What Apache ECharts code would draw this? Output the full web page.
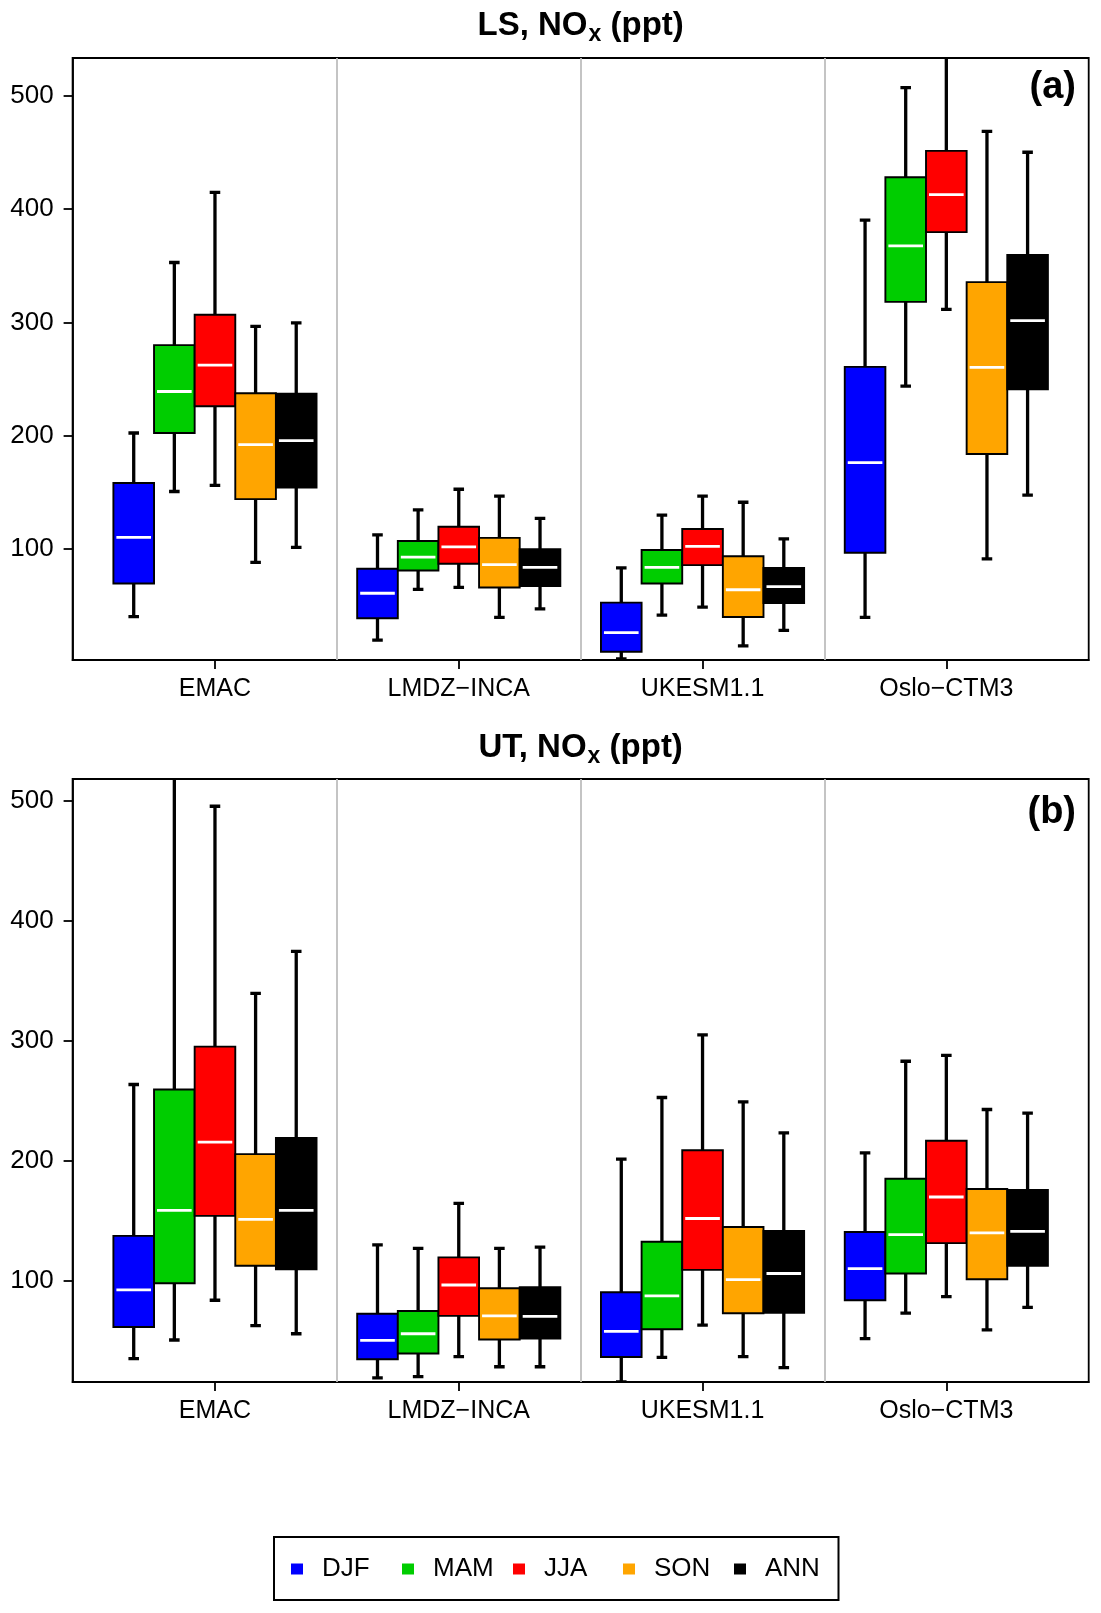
<!DOCTYPE html>
<html>
<head>
<meta charset="utf-8">
<script src="https://cdn.jsdelivr.net/npm/echarts@6/dist/echarts.min.js"></script>
<style>
html,body{margin:0;padding:0;background:#fff;}
#chart{width:1101px;height:1613px;}
</style>
</head>
<body>
<div id="chart"></div>
<script>
// ---- data ----
const MODELS = ['EMAC', 'LMDZ\u2212INCA', 'UKESM1.1', 'Oslo\u2212CTM3'];
const SEASONS = ['DJF', 'MAM', 'JJA', 'SON', 'ANN'];
const Y_TICKS = [100, 200, 300, 400, 500];
// each row: [whisker low, Q1, median, Q3, whisker high], one row per model
// LS panel (a)
const LS_DJF = [[40, 69.2, 109.9, 158, 202.2], [19.1, 38.5, 60.6, 82.2, 112.2], [2.6, 8.9, 25.8, 52.3, 83], [39.3, 96.4, 176.1, 260.6, 390.3]];
const LS_MAM = [[150.5, 202.2, 238.9, 279.9, 352.9], [64.1, 80.7, 92.5, 106.7, 134.3], [41.2, 69.2, 83.4, 98.8, 129.6], [243.6, 318.1, 367.5, 428.2, 507.5]];
const LS_JJA = [[156, 225.8, 262.1, 306.7, 414.8], [65.7, 86.6, 101.6, 119.3, 152.5], [48.3, 85.4, 102, 117.4, 146.5], [311.4, 379.7, 412.8, 451.5, 560]];
const LS_SON = [[87.8, 143.8, 191.9, 237.3, 296.4], [39.3, 65.7, 85.8, 109.5, 146.5], [14, 39.6, 63.7, 93.3, 141], [90.9, 183.6, 260.2, 335.5, 468.8]];
const LS_ANN = [[101.2, 154, 195.5, 236.9, 299.6], [46.7, 66.9, 83.4, 99.6, 126.8], [27.8, 51.9, 66.5, 83, 108.7], [147.3, 240.8, 301.6, 359.6, 450.3]];
// UT panel (b)
const UT_DJF = [[35.3, 61.7, 92.6, 137.6, 263.7], [19.3, 34.9, 50.5, 72.8, 130.1], [16, 36.7, 58, 90.7, 201.6], [52, 84, 110.4, 140.9, 206.8]];
const UT_MAM = [[50.9, 98.1, 158.8, 259.6, 540], [20.4, 39.7, 56.1, 75.1, 127.2], [36.4, 59.8, 87.7, 132.7, 252.9], [73.2, 106.3, 138.7, 185.2, 283.1]];
const UT_JJA = [[84, 154.3, 215.7, 295.3, 495.5], [37.1, 71, 96.7, 119.7, 164.7], [63.2, 109.3, 152.1, 209, 305], [87, 131.6, 170, 216.8, 287.9]];
const UT_SON = [[62.8, 112.7, 151.3, 205.7, 339.6], [28.6, 51.3, 71, 94, 127.2], [37.1, 73.2, 101.1, 145, 249.2], [59.4, 101.5, 140.2, 176.7, 242.9]];
const UT_ANN = [[56.1, 109.7, 158.8, 219.1, 374.6], [28.6, 52, 70.6, 94.8, 128.3], [27.8, 73.6, 106.3, 141.7, 223.5], [78, 112.7, 141.3, 175.9, 239.9]];

// ---- styles / layout ----
const COLORS = ['#0000FF', '#00CD00', '#FF0000', '#FFA500', '#000000'];
const FONT = 'Liberation Sans, Arial, Helvetica, sans-serif';
const BOX_STEP = 1 / 6;
const PANELS = [
  { title: 'LS', tag: '(a)', sets: [LS_DJF, LS_MAM, LS_JJA, LS_SON, LS_ANN], ymin: 1.6, ymax: 533.6, top: 58, height: 602, titleY: 26, tagY: 88 },
  { title: 'UT', tag: '(b)', sets: [UT_DJF, UT_MAM, UT_JJA, UT_SON, UT_ANN], ymin: 15.9, ymax: 518.2, top: 779, height: 603, titleY: 748, tagY: 813 }
];
const GRID_LEFT = 72.6, GRID_W = 1016.1;
const LEG_LEFT = [291, 402, 513, 623, 734];

function makeRender(s) {
  return function (params, api) {
    const x = api.value(0) + (s - 2) * BOX_STEP;
    const pLo = api.coord([x, api.value(1)]);
    const pQ1 = api.coord([x, api.value(2)]);
    const pMd = api.coord([x, api.value(3)]);
    const pQ3 = api.coord([x, api.value(4)]);
    const pHi = api.coord([x, api.value(5)]);
    const w = api.size([BOX_STEP, 0])[0];
    const hw = w / 2, cap = w * 0.13;
    const xc = pMd[0];
    const blk = { stroke: '#000', lineWidth: 3.3 };
    const cs = params.coordSys;
    return {
      type: 'group',
      clipPath: { type: 'rect', shape: { x: cs.x, y: cs.y, width: cs.width, height: cs.height } },
      children: [
        { type: 'line', shape: { x1: xc, y1: pQ3[1], x2: xc, y2: pHi[1] }, style: blk },
        { type: 'line', shape: { x1: xc, y1: pQ1[1], x2: xc, y2: pLo[1] }, style: blk },
        { type: 'line', shape: { x1: xc - cap, y1: pHi[1], x2: xc + cap, y2: pHi[1] }, style: blk },
        { type: 'line', shape: { x1: xc - cap, y1: pLo[1], x2: xc + cap, y2: pLo[1] }, style: blk },
        { type: 'rect', shape: { x: xc - hw, y: pQ3[1], width: w, height: pQ1[1] - pQ3[1] },
          style: { fill: COLORS[s], stroke: '#000', lineWidth: 1.9 } },
        { type: 'line', shape: { x1: xc - hw + 3, y1: pMd[1], x2: xc + hw - 3, y2: pMd[1] },
          style: { stroke: '#fff', lineWidth: 2.8 } }
      ]
    };
  };
}

const grids = [], xAxes = [], yAxes = [], series = [], graphics = [];
PANELS.forEach((p, pi) => {
  grids.push({ left: GRID_LEFT, top: p.top, width: GRID_W, height: p.height, show: true,
    borderColor: '#000', borderWidth: 1.8, backgroundColor: 'transparent', outerBoundsMode: 'none' });
  xAxes.push({ type: 'value', gridIndex: pi, min: 0.416, max: 4.584,
    axisLine: { show: true, lineStyle: { color: '#000', width: 1.8 } },
    axisTick: { show: true, length: 9, customValues: [1, 2, 3, 4], lineStyle: { color: '#000', width: 1.8 } },
    axisLabel: { customValues: [1, 2, 3, 4], formatter: v => MODELS[Math.round(v) - 1], fontSize: 25, fontFamily: FONT, color: '#000', margin: 17 },
    splitLine: { show: false } });
  yAxes.push({ type: 'value', gridIndex: pi, min: p.ymin, max: p.ymax,
    axisLine: { show: true, lineStyle: { color: '#000', width: 1.8 } },
    axisTick: { show: true, length: 9, customValues: Y_TICKS, lineStyle: { color: '#000', width: 1.8 } },
    axisLabel: { customValues: Y_TICKS, fontSize: 26, fontFamily: FONT, color: '#000', margin: 19 },
    splitLine: { show: false } });
  p.sets.forEach((arr, s) => {
    const ser = {
      type: 'custom', name: SEASONS[s], xAxisIndex: pi, yAxisIndex: pi,
      itemStyle: { color: COLORS[s] },
      renderItem: makeRender(s),
      encode: { x: 0, y: [1, 2, 3, 4, 5] },
      data: arr.map((v, i) => [i + 1].concat(v)),
      silent: true, animation: false
    };
    if (s === 0) {
      ser.markLine = { silent: true, symbol: 'none', animation: false, label: { show: false },
        lineStyle: { color: '#BEBEBE', width: 1.8, type: 'solid' },
        data: [{ xAxis: 1.5 }, { xAxis: 2.5 }, { xAxis: 3.5 }] };
    }
    series.push(ser);
  });
  graphics.push({ type: 'text', x: GRID_LEFT + GRID_W / 2, y: p.titleY, z: 10,
    style: { text: '{m|' + p.title + ', NO}{s|x}{m| (ppt)}', align: 'center', verticalAlign: 'middle',
      rich: {
        m: { fontSize: 33, fontWeight: 'bold', fontFamily: FONT, fill: '#000', lineHeight: 40, verticalAlign: 'middle' },
        s: { fontSize: 23, fontWeight: 'bold', fontFamily: FONT, fill: '#000', lineHeight: 22, verticalAlign: 'bottom', padding: [0, 0, 0, 1] }
      } } });
  graphics.push({ type: 'text', x: 1076, y: p.tagY, z: 10,
    style: { text: p.tag, align: 'right', verticalAlign: 'middle', fontSize: 38, fontWeight: 'bold', fontFamily: FONT, fill: '#000' } });
});
graphics.push({ type: 'rect', shape: { x: 274, y: 1537, width: 564.5, height: 63 }, z: -1,
  style: { fill: '#fff', stroke: '#000', lineWidth: 2 } });

const legends = SEASONS.map((n, i) => ({
  data: [{ name: n, itemStyle: { color: COLORS[i], borderWidth: 0 } }],
  left: LEG_LEFT[i], top: 1554, padding: 0, orient: 'horizontal',
  icon: 'rect', itemWidth: 12, itemHeight: 11, selectedMode: false,
  textStyle: { fontSize: 26, fontFamily: FONT, color: '#000', lineHeight: 30, padding: [0, 0, 0, 14] }
}));

const chart = echarts.init(document.getElementById('chart'), null, { renderer: 'canvas' });
chart.setOption({
  animation: false,
  backgroundColor: '#fff',
  grid: grids, xAxis: xAxes, yAxis: yAxes, series: series,
  legend: legends, graphic: graphics
});
</script>
</body>
</html>
